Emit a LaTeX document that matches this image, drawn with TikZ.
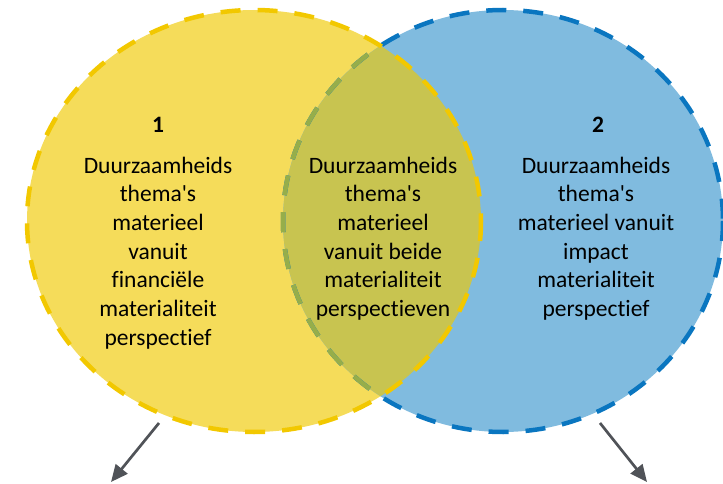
\documentclass[tikz,border=0pt]{standalone}
\usepackage{fontspec}
\setmainfont{Carlito}[Ligatures={NoCommon}]
\usetikzlibrary{arrows.meta}

\definecolor{yellowfill}{RGB}{245,220,90}
\definecolor{yellowline}{RGB}{242,200,0}
\definecolor{bluefill}{RGB}{128,187,223}
\definecolor{blueline}{RGB}{10,118,192}
\definecolor{overlapfill}{RGB}{200,196,80}
\definecolor{overlapline}{RGB}{150,174,74}
\definecolor{arrowgray}{RGB}{80,83,88}

\begin{document}
\begin{tikzpicture}[x=1pt, y=-1pt,
  rim/.style={line width=4.5pt, dash pattern=on 20pt off 17pt},
  venntext/.style={font=\fontsize{23.5}{28.7}\selectfont, align=center, inner sep=0pt, anchor=north},
  vennnum/.style={font=\fontsize{23.5}{28.7}\selectfont\bfseries, inner sep=0pt, anchor=base},
  pointer/.style={arrowgray, line width=2.7pt, -{Triangle[length=17pt, width=15pt]}}]

\useasboundingbox ( 0, 0 ) rectangle ( 723, 484 );

% Circle 1, yellow
\fill [yellowfill] ( 254, 221 ) ellipse [ x radius = 227, y radius = 211 ];

% Circle 2, blue
\fill [bluefill] ( 503, 221 ) ellipse [ x radius = 220, y radius = 211 ];

% Overlap
\begin{scope}
  \clip ( 254, 221 ) ellipse [ x radius = 227, y radius = 211 ];
  \fill [overlapfill] ( 503, 221 ) ellipse [ x radius = 220, y radius = 211 ];
\end{scope}

% Dashed rims
\draw [blueline, rim] ( 503, 221 ) ellipse [ x radius = 220, y radius = 211 ];
\begin{scope}
  \clip ( 254, 221 ) ellipse [ x radius = 227, y radius = 211 ];
  \draw [overlapline, rim] ( 503, 221 ) ellipse [ x radius = 220, y radius = 211 ];
\end{scope}
\draw [yellowline, rim] ( 254, 221 ) ellipse [ x radius = 227, y radius = 211 ];

% Labels
\node [vennnum] (numleft) at ( 158, 133 ) {1};
\node [vennnum] (numright) at ( 598, 133 ) {2};

\node [venntext] (textleft) at ( 158, 156.5 )
  {Duurzaamheids\\thema\textquotesingle s\\materieel\\vanuit\\financiële\\materialiteit\\perspectief};
\node [venntext] (textboth) at ( 383, 156.5 )
  {Duurzaamheids\\thema\textquotesingle s\\materieel\\vanuit beide\\materialiteit\\perspectieven};
\node [venntext] (textright) at ( 596, 156.5 )
  {Duurzaamheids\\thema\textquotesingle s\\materieel vanuit\\impact\\materialiteit\\perspectief};

% Arrows
\coordinate (leftfoot) at ( 159, 423 );
\coordinate (lefttip) at ( 111, 482 );
\coordinate (rightfoot) at ( 600, 423 );
\coordinate (righttip) at ( 647, 482 );

\draw [pointer] (leftfoot) -- (lefttip);
\draw [pointer] (rightfoot) -- (righttip);

\end{tikzpicture}
\end{document}
